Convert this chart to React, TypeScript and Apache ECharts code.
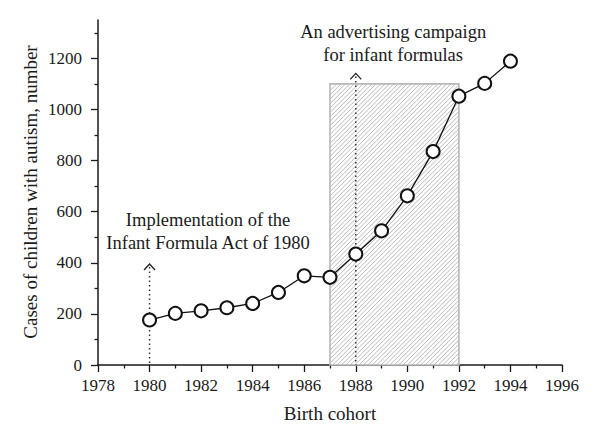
import { useEffect, useRef } from "react";
import * as echarts from "echarts";

const years = [1980, 1981, 1982, 1983, 1984, 1985, 1986, 1987, 1988, 1989, 1990, 1991, 1992, 1993, 1994];
const cases = [176, 202, 212, 224, 241, 284, 349, 343, 434, 525, 662, 835, 1052, 1102, 1189];

const xMin = 1978;
const xMax = 1996;
const xInterval = 2;
const yMin = 0;
const yMax = 1350;
const yMajorTicks = [0, 200, 400, 600, 800, 1000, 1200];
const yMinorTicks = [100, 300, 500, 700, 900, 1100, 1300];

// campaign period: [startYear, endYear, topValue]
const campaignSpan = [[1987, 1992, 1100]];
// event arrows: [year, arrow tip value]
const eventArrows = [[1980, 395], [1988, 1141]];
// annotation texts: [x, y (bottom of text block)]
const annotationPos = [[1982.27, 434], [1989.45, 1170]];
const annotationText = [
  "Implementation of the\nInfant Formula Act of 1980",
  "An advertising campaign\nfor infant formulas",
];

const xTitle = "Birth cohort";
const yTitle = "Cases of children with autism, number";

const FONT = '"Liberation Serif", "Times New Roman", serif';
const INK = "#1a1a1a";

export default function App() {
  const ref = useRef<HTMLDivElement>(null);
  useEffect(() => {
    if (!ref.current) return;
    const chart = echarts.init(ref.current, null, { renderer: "svg" });
    const option: any = {
      animation: false,
      backgroundColor: "#fff",
      grid: { left: 98, right: 38, top: 20, bottom: 83, containLabel: false },
      xAxis: {
        type: "value",
        min: xMin,
        max: xMax,
        interval: xInterval,
        axisLine: { show: true, onZero: false, lineStyle: { color: INK, width: 1.5 } },
        axisTick: { show: true, length: 7, lineStyle: { color: INK, width: 1.3 } },
        minorTick: { show: true, splitNumber: 2, length: 3.5, lineStyle: { color: INK, width: 1.3 } },
        axisLabel: { fontSize: 17, color: INK, fontFamily: FONT, margin: 12, formatter: (v: number) => String(v) },
        splitLine: { show: false },
        minorSplitLine: { show: false },
        name: xTitle,
        nameLocation: "middle",
        nameGap: 39,
        nameTextStyle: { fontSize: 19, color: INK, fontFamily: FONT },
      },
      yAxis: [
        {
          type: "value",
          min: yMin,
          max: yMax,
          interval: 200,
          axisLine: { show: true, onZero: false, lineStyle: { color: INK, width: 1.5 } },
          axisTick: { show: true, length: 7, customValues: yMajorTicks, lineStyle: { color: INK, width: 1.3 } },
          axisLabel: {
            fontSize: 17,
            color: INK,
            fontFamily: FONT,
            margin: 16,
            customValues: yMajorTicks,
            formatter: (v: number) => String(v),
          },
          splitLine: { show: false },
        },
        {
          type: "value",
          min: yMin,
          max: yMax,
          position: "left",
          offset: 0,
          axisLine: { show: false },
          axisTick: { show: true, length: 3.5, customValues: yMinorTicks, lineStyle: { color: INK, width: 1.3 } },
          axisLabel: { show: false },
          splitLine: { show: false },
        },
      ],
      graphic: [
        {
          type: "text",
          x: 30,
          y: 192,
          rotation: Math.PI / 2,
          style: {
            text: yTitle,
            font: `19px ${FONT}`,
            fill: INK,
            align: "center",
            verticalAlign: "middle",
            textAlign: "center",
            textVerticalAlign: "middle",
          },
        },
      ],
      series: [
        {
          type: "custom",
          coordinateSystem: "cartesian2d",
          z: 1,
          silent: true,
          data: campaignSpan,
          renderItem: (params: any, api: any) => {
            const p0 = api.coord([api.value(0), 0]);
            const p1 = api.coord([api.value(1), api.value(2)]);
            const x0 = p0[0], x1 = p1[0], yb = p0[1], yt = p1[1];
            const children: any[] = [];
            children.push({
              type: "rect",
              shape: { x: x0, y: yt, width: x1 - x0, height: yb - yt },
              style: { fill: "#fff", stroke: "none" },
            });
            const step = 4.4;
            for (let c = x0 + yt + step / 2; c < x1 + yb; c += step) {
              const sx = Math.max(x0, c - yb);
              const sy = c - sx;
              const ex = Math.min(x1, c - yt);
              const ey = c - ex;
              children.push({
                type: "line",
                shape: { x1: sx, y1: sy, x2: ex, y2: ey },
                style: { stroke: "#a8a8a8", lineWidth: 0.8 },
              });
            }
            children.push({
              type: "rect",
              shape: { x: x0, y: yt, width: x1 - x0, height: yb - yt },
              style: { fill: "none", stroke: "#b8b8b8", lineWidth: 1.6 },
            });
            return { type: "group", children };
          },
        },
        {
          type: "custom",
          coordinateSystem: "cartesian2d",
          z: 2,
          silent: true,
          data: eventArrows,
          renderItem: (params: any, api: any) => {
            const tip = api.coord([api.value(0), api.value(1)]);
            const base = api.coord([api.value(0), 0]);
            return {
              type: "group",
              children: [
                {
                  type: "line",
                  shape: { x1: tip[0], y1: tip[1] + 3, x2: base[0], y2: base[1] },
                  style: { stroke: "#333", lineWidth: 1.5, lineDash: [1.5, 3] },
                },
                {
                  type: "polyline",
                  shape: { points: [[tip[0] - 5.5, tip[1] + 6], [tip[0], tip[1]], [tip[0] + 5.5, tip[1] + 6]] },
                  style: { stroke: "#222", lineWidth: 1.3, fill: "none" },
                },
              ],
            };
          },
        },
        {
          type: "custom",
          coordinateSystem: "cartesian2d",
          z: 3,
          silent: true,
          data: annotationPos.map((p, i) => [p[0], p[1], i]),
          renderItem: (params: any, api: any) => {
            const p = api.coord([api.value(0), api.value(1)]);
            return {
              type: "text",
              x: p[0],
              y: p[1],
              style: {
                text: annotationText[params.dataIndex],
                font: `18.5px ${FONT}`,
                fill: INK,
                align: "center",
                verticalAlign: "bottom",
                lineHeight: 23,
              },
            };
          },
        },
        {
          type: "line",
          z: 5,
          data: years.map((y, i) => [y, cases[i]]),
          symbol: "emptyCircle",
          symbolSize: 13,
          itemStyle: { color: "#111", borderWidth: 1.5 },
          lineStyle: { color: "#111", width: 1.3 },
        },
      ],
    };
    chart.setOption(option);
    return () => chart.dispose();
  }, []);
  return (
    <div
      ref={ref}
      style={{ position: "fixed", left: 0, top: 0, width: 600, height: 448, background: "#fff" }}
    />
  );
}
